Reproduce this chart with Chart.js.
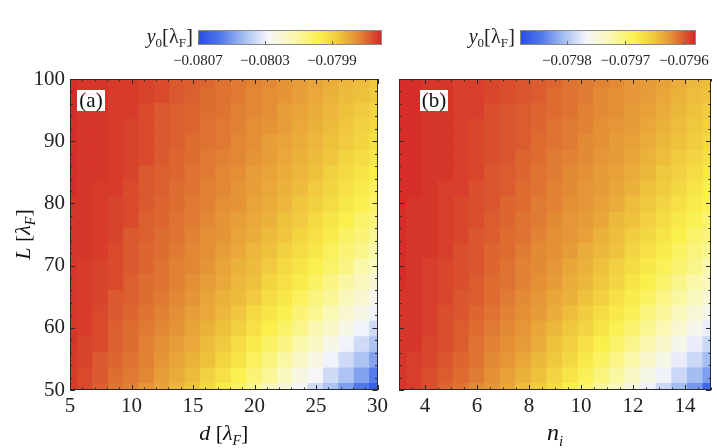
<!DOCTYPE html>
<html>
<head>
<meta charset="utf-8">
<script src="https://cdn.jsdelivr.net/npm/chart.js@4.4.1/dist/chart.umd.min.js"></script>
<style>
	html, body { margin: 0; padding: 0; background: #fff; width: 717px; height: 448px; overflow: hidden; }
	canvas { position: absolute; }
</style>
</head>
<body>
<canvas id="cbA" style="left:120px;top:20px" width="280" height="55"></canvas>
<canvas id="cbB" style="left:440px;top:20px" width="277" height="55"></canvas>
<canvas id="panA" style="left:0px;top:60px" width="392" height="388"></canvas>
<canvas id="panB" style="left:392px;top:60px" width="325" height="388"></canvas>
<script>
// grid of the two maps (cell centres)
const dCols = [5, 6.25, 7.5, 8.75, 10, 11.25, 12.5, 13.75, 15, 16.25, 17.5, 18.75, 20, 21.25, 22.5, 23.75, 25, 26.25, 27.5, 28.75, 30];
const nCols = [3, 3.6, 4.2, 4.8, 5.4, 6, 6.6, 7.2, 7.8, 8.4, 9, 9.6, 10.2, 10.8, 11.4, 12, 12.6, 13.2, 13.8, 14.4, 15];
const LRows = [100, 97.5, 95, 92.5, 90, 87.5, 85, 82.5, 80, 77.5, 75, 72.5, 70, 67.5, 65, 62.5, 60, 57.5, 55, 52.5, 50];

// y0 [lambda_F], one row per L (top to bottom), panel (a) against d
const y0A = [
	[-0.07961,-0.07962,-0.07962,-0.07963,-0.07963,-0.07964,-0.07965,-0.07967,-0.07968,-0.07969,-0.07971,-0.07972,-0.07973,-0.07974,-0.07976,-0.07978,-0.07979,-0.07981,-0.07983,-0.07984,-0.07986],
	[-0.07961,-0.07962,-0.07962,-0.07963,-0.07963,-0.07964,-0.07965,-0.07967,-0.07968,-0.07970,-0.07971,-0.07972,-0.07974,-0.07975,-0.07976,-0.07978,-0.07980,-0.07982,-0.07984,-0.07985,-0.07987],
	[-0.07961,-0.07962,-0.07962,-0.07963,-0.07963,-0.07965,-0.07967,-0.07968,-0.07969,-0.07970,-0.07971,-0.07973,-0.07974,-0.07975,-0.07978,-0.07979,-0.07981,-0.07983,-0.07985,-0.07987,-0.07990],
	[-0.07961,-0.07962,-0.07962,-0.07963,-0.07964,-0.07965,-0.07967,-0.07968,-0.07969,-0.07971,-0.07972,-0.07973,-0.07975,-0.07976,-0.07978,-0.07980,-0.07982,-0.07984,-0.07986,-0.07989,-0.07991],
	[-0.07961,-0.07962,-0.07962,-0.07963,-0.07964,-0.07965,-0.07967,-0.07968,-0.07970,-0.07971,-0.07972,-0.07974,-0.07975,-0.07978,-0.07979,-0.07981,-0.07983,-0.07985,-0.07987,-0.07990,-0.07993],
	[-0.07961,-0.07962,-0.07962,-0.07963,-0.07964,-0.07965,-0.07967,-0.07969,-0.07970,-0.07972,-0.07973,-0.07974,-0.07976,-0.07978,-0.07980,-0.07982,-0.07984,-0.07986,-0.07990,-0.07992,-0.07995],
	[-0.07961,-0.07962,-0.07962,-0.07963,-0.07964,-0.07967,-0.07968,-0.07969,-0.07971,-0.07972,-0.07974,-0.07975,-0.07978,-0.07979,-0.07981,-0.07983,-0.07985,-0.07989,-0.07991,-0.07994,-0.07997],
	[-0.07961,-0.07962,-0.07963,-0.07963,-0.07965,-0.07967,-0.07968,-0.07970,-0.07971,-0.07973,-0.07974,-0.07976,-0.07978,-0.07980,-0.07982,-0.07984,-0.07987,-0.07990,-0.07993,-0.07996,-0.08000],
	[-0.07962,-0.07962,-0.07963,-0.07964,-0.07965,-0.07967,-0.07969,-0.07970,-0.07972,-0.07973,-0.07975,-0.07976,-0.07979,-0.07981,-0.07983,-0.07986,-0.07989,-0.07992,-0.07995,-0.07998,-0.08002],
	[-0.07962,-0.07962,-0.07963,-0.07964,-0.07965,-0.07968,-0.07969,-0.07971,-0.07972,-0.07974,-0.07976,-0.07978,-0.07980,-0.07982,-0.07985,-0.07987,-0.07991,-0.07994,-0.07997,-0.08002,-0.08005],
	[-0.07962,-0.07962,-0.07963,-0.07964,-0.07967,-0.07968,-0.07970,-0.07971,-0.07973,-0.07975,-0.07976,-0.07979,-0.07981,-0.07984,-0.07986,-0.07990,-0.07993,-0.07996,-0.08001,-0.08004,-0.08008],
	[-0.07962,-0.07962,-0.07963,-0.07965,-0.07967,-0.07969,-0.07970,-0.07972,-0.07974,-0.07975,-0.07978,-0.07980,-0.07983,-0.07985,-0.07989,-0.07992,-0.07995,-0.08000,-0.08004,-0.08007,-0.08012],
	[-0.07962,-0.07963,-0.07964,-0.07965,-0.07967,-0.07969,-0.07971,-0.07973,-0.07974,-0.07976,-0.07979,-0.07982,-0.07984,-0.07987,-0.07991,-0.07994,-0.07998,-0.08002,-0.08006,-0.08012,-0.08016],
	[-0.07962,-0.07963,-0.07964,-0.07965,-0.07968,-0.07970,-0.07971,-0.07973,-0.07975,-0.07978,-0.07980,-0.07983,-0.07985,-0.07990,-0.07993,-0.07996,-0.08001,-0.08006,-0.08011,-0.08015,-0.08020],
	[-0.07962,-0.07963,-0.07964,-0.07967,-0.07968,-0.07970,-0.07972,-0.07974,-0.07976,-0.07979,-0.07982,-0.07984,-0.07987,-0.07992,-0.07995,-0.08000,-0.08005,-0.08009,-0.08015,-0.08019,-0.08025],
	[-0.07962,-0.07963,-0.07965,-0.07967,-0.07969,-0.07971,-0.07973,-0.07975,-0.07978,-0.07980,-0.07983,-0.07986,-0.07991,-0.07994,-0.07998,-0.08004,-0.08008,-0.08014,-0.08019,-0.08024,-0.08029],
	[-0.07962,-0.07963,-0.07965,-0.07968,-0.07970,-0.07972,-0.07974,-0.07976,-0.07979,-0.07982,-0.07985,-0.07989,-0.07993,-0.07997,-0.08002,-0.08007,-0.08013,-0.08018,-0.08024,-0.08029,-0.08035],
	[-0.07962,-0.07964,-0.07965,-0.07968,-0.07970,-0.07973,-0.07975,-0.07978,-0.07980,-0.07984,-0.07987,-0.07992,-0.07996,-0.08001,-0.08006,-0.08012,-0.08017,-0.08024,-0.08029,-0.08035,-0.08041],
	[-0.07963,-0.07964,-0.07967,-0.07969,-0.07971,-0.07973,-0.07976,-0.07979,-0.07982,-0.07985,-0.07990,-0.07994,-0.08000,-0.08005,-0.08011,-0.08017,-0.08023,-0.08029,-0.08035,-0.08041,-0.08048],
	[-0.07963,-0.07965,-0.07967,-0.07970,-0.07972,-0.07974,-0.07978,-0.07981,-0.07984,-0.07989,-0.07993,-0.07998,-0.08004,-0.08009,-0.08016,-0.08023,-0.08028,-0.08035,-0.08041,-0.08048,-0.08056],
	[-0.07963,-0.07965,-0.07968,-0.07971,-0.07973,-0.07976,-0.07979,-0.07983,-0.07986,-0.07991,-0.07996,-0.08002,-0.08008,-0.08015,-0.08022,-0.08028,-0.08035,-0.08041,-0.08049,-0.08057,-0.08064]
];

// panel (b) against n_i
const y0B = [
	[-0.079583,-0.079583,-0.079586,-0.079586,-0.079589,-0.079589,-0.079592,-0.079595,-0.079598,-0.079601,-0.079604,-0.079610,-0.079613,-0.079616,-0.079619,-0.079625,-0.079628,-0.079631,-0.079637,-0.079643,-0.079646],
	[-0.079583,-0.079583,-0.079586,-0.079586,-0.079589,-0.079589,-0.079592,-0.079595,-0.079598,-0.079601,-0.079607,-0.079610,-0.079613,-0.079619,-0.079622,-0.079625,-0.079628,-0.079634,-0.079640,-0.079646,-0.079649],
	[-0.079583,-0.079583,-0.079586,-0.079586,-0.079589,-0.079589,-0.079595,-0.079598,-0.079601,-0.079604,-0.079607,-0.079610,-0.079616,-0.079619,-0.079622,-0.079628,-0.079631,-0.079637,-0.079643,-0.079649,-0.079655],
	[-0.079583,-0.079583,-0.079586,-0.079586,-0.079589,-0.079592,-0.079595,-0.079598,-0.079601,-0.079604,-0.079610,-0.079613,-0.079616,-0.079622,-0.079625,-0.079628,-0.079634,-0.079640,-0.079646,-0.079652,-0.079658],
	[-0.079583,-0.079583,-0.079586,-0.079586,-0.079589,-0.079592,-0.079595,-0.079598,-0.079601,-0.079607,-0.079610,-0.079613,-0.079619,-0.079622,-0.079628,-0.079631,-0.079637,-0.079643,-0.079649,-0.079655,-0.079664],
	[-0.079583,-0.079583,-0.079586,-0.079586,-0.079589,-0.079592,-0.079595,-0.079598,-0.079604,-0.079607,-0.079613,-0.079616,-0.079619,-0.079625,-0.079628,-0.079634,-0.079640,-0.079646,-0.079655,-0.079661,-0.079670],
	[-0.079583,-0.079583,-0.079586,-0.079586,-0.079589,-0.079592,-0.079598,-0.079601,-0.079604,-0.079610,-0.079613,-0.079619,-0.079622,-0.079628,-0.079631,-0.079637,-0.079643,-0.079652,-0.079658,-0.079667,-0.079676],
	[-0.079583,-0.079583,-0.079586,-0.079589,-0.079589,-0.079595,-0.079598,-0.079601,-0.079607,-0.079610,-0.079616,-0.079619,-0.079625,-0.079628,-0.079634,-0.079640,-0.079649,-0.079655,-0.079664,-0.079673,-0.079682],
	[-0.079583,-0.079586,-0.079586,-0.079589,-0.079592,-0.079595,-0.079598,-0.079604,-0.079607,-0.079613,-0.079616,-0.079622,-0.079625,-0.079631,-0.079637,-0.079646,-0.079652,-0.079661,-0.079670,-0.079679,-0.079688],
	[-0.079583,-0.079586,-0.079586,-0.079589,-0.079592,-0.079595,-0.079601,-0.079604,-0.079610,-0.079613,-0.079619,-0.079625,-0.079628,-0.079634,-0.079643,-0.079649,-0.079658,-0.079667,-0.079676,-0.079685,-0.079697],
	[-0.079583,-0.079586,-0.079586,-0.079589,-0.079592,-0.079598,-0.079601,-0.079607,-0.079610,-0.079616,-0.079622,-0.079625,-0.079631,-0.079640,-0.079646,-0.079655,-0.079664,-0.079673,-0.079682,-0.079694,-0.079703],
	[-0.079583,-0.079586,-0.079586,-0.079589,-0.079595,-0.079598,-0.079604,-0.079607,-0.079613,-0.079619,-0.079622,-0.079628,-0.079637,-0.079643,-0.079649,-0.079661,-0.079670,-0.079679,-0.079691,-0.079703,-0.079712],
	[-0.079583,-0.079586,-0.079589,-0.079592,-0.079595,-0.079598,-0.079604,-0.079610,-0.079616,-0.079619,-0.079625,-0.079634,-0.079640,-0.079649,-0.079658,-0.079667,-0.079676,-0.079688,-0.079697,-0.079709,-0.079724],
	[-0.079583,-0.079586,-0.079589,-0.079592,-0.079595,-0.079601,-0.079607,-0.079610,-0.079616,-0.079622,-0.079628,-0.079637,-0.079643,-0.079652,-0.079661,-0.079673,-0.079682,-0.079694,-0.079709,-0.079721,-0.079733],
	[-0.079586,-0.079586,-0.079589,-0.079592,-0.079598,-0.079601,-0.079607,-0.079613,-0.079619,-0.079625,-0.079634,-0.079640,-0.079649,-0.079658,-0.079670,-0.079679,-0.079691,-0.079706,-0.079718,-0.079733,-0.079745],
	[-0.079586,-0.079586,-0.079589,-0.079595,-0.079598,-0.079604,-0.079610,-0.079616,-0.079622,-0.079628,-0.079637,-0.079646,-0.079655,-0.079667,-0.079676,-0.079688,-0.079703,-0.079715,-0.079730,-0.079745,-0.079757],
	[-0.079586,-0.079586,-0.079589,-0.079595,-0.079601,-0.079607,-0.079613,-0.079619,-0.079625,-0.079634,-0.079643,-0.079652,-0.079661,-0.079673,-0.079685,-0.079697,-0.079712,-0.079727,-0.079742,-0.079757,-0.079772],
	[-0.079586,-0.079586,-0.079592,-0.079595,-0.079601,-0.079610,-0.079616,-0.079622,-0.079628,-0.079637,-0.079649,-0.079658,-0.079670,-0.079682,-0.079694,-0.079709,-0.079724,-0.079739,-0.079757,-0.079772,-0.079787],
	[-0.079586,-0.079589,-0.079592,-0.079598,-0.079604,-0.079610,-0.079619,-0.079625,-0.079634,-0.079643,-0.079652,-0.079664,-0.079676,-0.079691,-0.079706,-0.079721,-0.079739,-0.079754,-0.079772,-0.079787,-0.079805],
	[-0.079586,-0.079589,-0.079595,-0.079601,-0.079607,-0.079613,-0.079622,-0.079631,-0.079640,-0.079649,-0.079661,-0.079673,-0.079688,-0.079703,-0.079718,-0.079736,-0.079754,-0.079769,-0.079787,-0.079805,-0.079823],
	[-0.079586,-0.079589,-0.079595,-0.079604,-0.079610,-0.079619,-0.079625,-0.079634,-0.079646,-0.079655,-0.079667,-0.079682,-0.079697,-0.079715,-0.079733,-0.079751,-0.079769,-0.079787,-0.079805,-0.079826,-0.079859]
];

// axis ticks
const dTicks = [5, 10, 15, 20, 25, 30];
const nTicks = [4, 6, 8, 10, 12, 14];
const LTicks = [50, 60, 70, 80, 90, 100];
const rangeA = [-0.0807, -0.0796];
const rangeB = [-0.07988, -0.07958];
const cbTicksA = [-0.0807, -0.0803, -0.0799];
const cbTicksB = [-0.0798, -0.0797, -0.0796];

const serif = '"Liberation Serif", "Times New Roman", serif';

// blue - white - yellow - orange - red
const cmap = [
	[0.00, [38, 76, 228]],
	[0.12, [80, 120, 235]],
	[0.25, [165, 190, 242]],
	[0.38, [246, 246, 250]],
	[0.52, [250, 248, 175]],
	[0.66, [250, 240, 75]],
	[0.76, [240, 200, 62]],
	[0.86, [228, 145, 54]],
	[0.94, [218, 86, 46]],
	[1.00, [212, 38, 40]]
];

function colorFor(v, range) {
	let t = (v - range[0]) / (range[1] - range[0]);
	t = Math.max(0, Math.min(1, t));
	for (let i = 1; i < cmap.length; i++) {
		if (t <= cmap[i][0]) {
			const [t0, c0] = cmap[i - 1], [t1, c1] = cmap[i];
			const f = (t - t0) / (t1 - t0);
			const c = c0.map((c, k) => Math.round(c + f * (c1[k] - c)));
			return 'rgb(' + c.join(',') + ')';
		}
	}
	return 'rgb(' + cmap[cmap.length - 1][1].join(',') + ')';
}

function heatDatasets(xs, ys, z, range) {
	const half = Math.abs(ys[0] - ys[1]) / 2;
	return ys.map((L, i) => ({
		data: xs.map(x => ({x: x, y: [L - half, L + half]})),
		backgroundColor: z[i].map(v => colorFor(v, range)),
		grouped: false,
		clip: 0,
		borderWidth: 0,
		barPercentage: 1,
		categoryPercentage: 1,
		inflateAmount: 0.7
	}));
}

function drawRich(ctx, parts, x, y, align) {
	let w = 0;
	parts.forEach(p => { ctx.font = p.f; p.w = ctx.measureText(p.t).width; w += p.w; });
	let cx = align === 'right' ? x - w : (align === 'center' ? x - w / 2 : x);
	ctx.textAlign = 'left';
	ctx.textBaseline = 'alphabetic';
	parts.forEach(p => { ctx.font = p.f; ctx.fillText(p.t, cx, y + (p.dy || 0)); cx += p.w; });
}

function lamTitle(v) {
	return [
		{t: v, f: 'italic 22px ' + serif},
		{t: ' [', f: '22px ' + serif},
		{t: 'λ', f: 'italic 22px ' + serif},
		{t: 'F', f: 'italic 14px ' + serif, dy: 5},
		{t: ']', f: '22px ' + serif}
	];
}

const cbLabel = [
	{t: 'y', f: 'italic 20px ' + serif},
	{t: '0', f: '13px ' + serif, dy: 4},
	{t: '[', f: '21px ' + serif},
	{t: 'λ', f: '20px ' + serif},
	{t: 'F', f: '13px ' + serif, dy: 4},
	{t: ']', f: '21px ' + serif}
];

// frame with inward ticks, panel tag and axis titles
const framePlugin = {
	id: 'frame',
	afterDraw(chart, args, o) {
		const {ctx, chartArea: a, scales: {x, y}} = chart;
		ctx.save();
		ctx.strokeStyle = '#2a2a2a';
		ctx.lineWidth = 1;
		const line = (x0, y0, x1, y1) => { ctx.beginPath(); ctx.moveTo(x0, y0); ctx.lineTo(x1, y1); ctx.stroke(); };
		const isMajor = (v, m) => Math.abs(v / m - Math.round(v / m)) < 1e-6;
		for (let v = x.min; v <= x.max + 1e-9; v += o.xMinor) {
			const len = isMajor(v, o.xMajor) ? 5 : 2.5;
			const px = Math.round(x.getPixelForValue(v)) + 0.5;
			line(px, a.bottom, px, a.bottom - len);
			line(px, a.top, px, a.top + len);
		}
		for (let v = y.min; v <= y.max + 1e-9; v += o.yMinor) {
			const len = isMajor(v, o.yMajor) ? 5 : 2.5;
			const py = Math.round(y.getPixelForValue(v)) + 0.5;
			line(a.left, py, a.left + len, py);
			line(a.right, py, a.right - len, py);
		}
		ctx.strokeRect(Math.round(a.left) + 0.5, Math.round(a.top) + 0.5, Math.round(a.width) - 1, Math.round(a.height) - 1);

		// panel tag
		ctx.fillStyle = '#fff';
		ctx.fillRect(a.left + o.tagX, a.top + 11, 28, 21);
		ctx.fillStyle = '#111';
		drawRich(ctx, [{t: o.tag, f: '21px ' + serif}], a.left + o.tagX + 14, a.top + 28, 'center');

		// axis titles
		drawRich(ctx, o.xTitle, (a.left + a.right) / 2, 380, 'center');
		if (o.yTitle) {
			ctx.translate(30, (a.top + a.bottom) / 2);
			ctx.rotate(-Math.PI / 2);
			drawRich(ctx, o.yTitle, 0, 0, 'center');
		}
		ctx.restore();
	}
};

const colorbarPlugin = {
	id: 'cbar',
	afterDraw(chart) {
		const {ctx, chartArea: a, scales: {x}} = chart;
		ctx.save();
		ctx.strokeStyle = '#8a8a8a';
		ctx.lineWidth = 1;
		ctx.strokeRect(Math.round(a.left) + 0.5, Math.round(a.top) + 0.5, Math.round(a.width) - 1, Math.round(a.height) - 1);
		ctx.strokeStyle = '#666';
		x.ticks.forEach(t => {
			const px = Math.round(x.getPixelForValue(t.value)) + 0.5;
			ctx.beginPath();
			ctx.moveTo(px, a.bottom);
			ctx.lineTo(px, a.bottom - 4);
			ctx.stroke();
		});
		ctx.fillStyle = '#222';
		drawRich(ctx, cbLabel, a.left - 5, 23, 'right');
		ctx.restore();
	}
};

function makeColorbar(id, range, ticks, padLeft, padRight) {
	new Chart(document.getElementById(id), {
		type: 'bar',
		data: {
			labels: [''],
			datasets: [{
				data: [range],
				backgroundColor: c => {
					const area = c.chart.chartArea;
					if (!area) return null;
					const g = c.chart.ctx.createLinearGradient(area.left, 0, area.right, 0);
					cmap.forEach(([s, rgb]) => g.addColorStop(s, 'rgb(' + rgb.join(',') + ')'));
					return g;
				},
				borderWidth: 0,
				barPercentage: 1,
				categoryPercentage: 1,
				inflateAmount: 0
			}]
		},
		options: {
			indexAxis: 'y',
			responsive: false,
			animation: false,
			events: [],
			layout: {padding: {left: padLeft, right: padRight, top: 10, bottom: 0}},
			plugins: {legend: {display: false}, tooltip: {enabled: false}},
			scales: {
				x: {
					type: 'linear',
					min: range[0],
					max: range[1],
					position: 'bottom',
					grid: {display: false, drawTicks: false},
					border: {display: false},
					afterBuildTicks: s => { s.ticks = ticks.map(v => ({value: v})); },
					afterFit: s => { s.height = 30; },
					ticks: {
						padding: 7,
						autoSkip: false,
						maxRotation: 0,
						color: '#222',
						font: {family: serif, size: 15},
						callback: v => '\u2212' + Math.abs(v).toFixed(4)
					}
				},
				y: {display: false}
			}
		},
		plugins: [colorbarPlugin]
	});
}

function makePanel(id, xs, z, range, xr, xTicks, opts) {
	new Chart(document.getElementById(id), {
		type: 'bar',
		data: {datasets: heatDatasets(xs, LRows, z, range)},
		options: {
			responsive: false,
			animation: false,
			events: [],
			layout: {padding: {left: 0, right: opts.padRight, top: 19, bottom: 0}},
			plugins: {legend: {display: false}, tooltip: {enabled: false}, frame: opts.frame},
			scales: {
				x: {
					type: 'linear',
					min: xr[0],
					max: xr[1],
					offset: false,
					grid: {display: false, drawTicks: false, offset: false},
					border: {display: false},
					afterBuildTicks: s => { s.ticks = xTicks.map(v => ({value: v})); },
					afterFit: s => { s.height = 58; },
					ticks: {padding: 4, autoSkip: false, maxRotation: 0, color: '#222', font: {family: serif, size: 21}}
				},
				y: {
					type: 'linear',
					min: 50,
					max: 100,
					grid: {display: false, drawTicks: false},
					border: {display: false},
					afterBuildTicks: s => { s.ticks = LTicks.map(v => ({value: v})); },
					afterFit: s => { s.width = opts.yWidth; },
					ticks: {display: opts.yLabels, padding: 5, autoSkip: false, color: '#222', font: {family: serif, size: 21}}
				}
			}
		},
		plugins: [framePlugin]
	});
}

makeColorbar('cbA', rangeA, cbTicksA, 78, 18);
makeColorbar('cbB', rangeB, cbTicksB, 80, 20);

makePanel('panA', dCols, y0A, rangeA, [5, 30], dTicks, {
	padRight: 11, yWidth: 70, yLabels: true,
	frame: {xMinor: 1, xMajor: 5, yMinor: 2, yMajor: 10, tag: '(a)', tagX: 7, xTitle: lamTitle('d'), yTitle: lamTitle('L')}
});
makePanel('panB', nCols, y0B, rangeB, [3, 15], nTicks, {
	padRight: 6, yWidth: 7, yLabels: false,
	frame: {xMinor: 0.5, xMajor: 2, yMinor: 2, yMajor: 10, tag: '(b)', tagX: 21,
		xTitle: [{t: 'n', f: 'italic 24px ' + serif}, {t: 'i', f: 'italic 15px ' + serif, dy: 6}], yTitle: null}
});
</script>
</body>
</html>
